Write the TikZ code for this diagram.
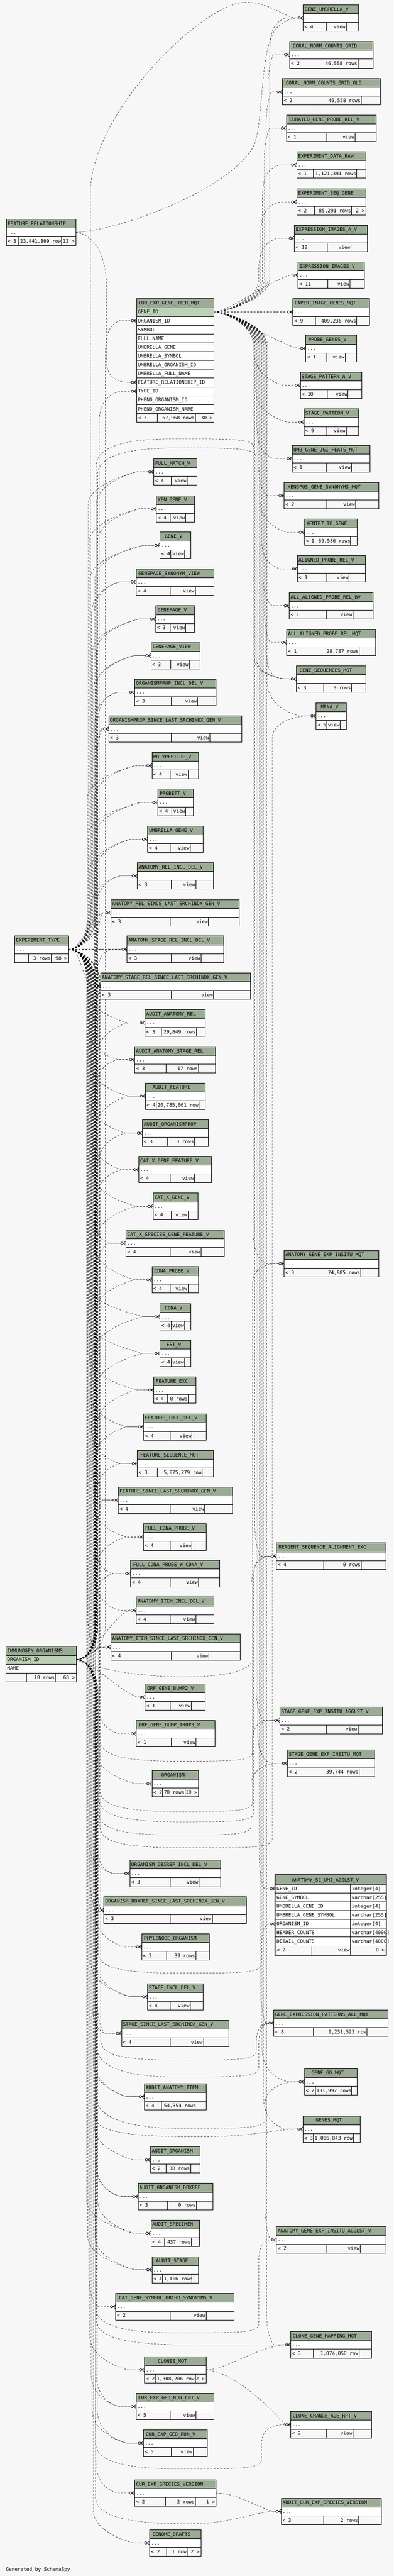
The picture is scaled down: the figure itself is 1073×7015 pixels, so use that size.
\documentclass[tikz,border=0pt]{standalone}
\usepackage{fontspec}
\newfontfamily\tfont{DejaVu Sans Mono}
\font\Tmeas="DejaVu Sans Mono" at 13.2pt
\usetikzlibrary{calc}
\pgfdeclarelayer{front}
\pgfsetlayers{main,front}
\definecolor{bgc}{HTML}{F7F7F7}
\definecolor{hdr}{HTML}{9BAB96}
\definecolor{pkc}{HTML}{BED1B8}
\newlength\mytw
\newcommand\tfs{\tfont\fontsize{13.2}{15}\selectfont}
\tikzset{
  tb/.style={draw=black,line width=1pt},
  rel/.style={draw=black,line width=0.7pt,dash pattern=on 5pt off 4pt},
  cf/.style={draw=black,line width=1.1pt},
  txt/.style={inner sep=0pt,font=\tfs},
}
\newcommand\setP[3]{\expandafter\xdef\csname PX@#1\endcsname{#2}\expandafter\xdef\csname PY@#1\endcsname{#3}}
\newcommand\setC[3]{\expandafter\xdef\csname X@#1\endcsname{#2}\expandafter\xdef\csname Y@#1\endcsname{#3}\coordinate (#1-in) at (#2-14,#3);}
% table: id, x1, y1, x2, title, f1, f2, f3, d1, d2
\newcommand\tbl[9]{\def\Tid{#1}\def\Txa{#2}\def\Tya{#3}\def\Txb{#4}\def\Tttl{#5}\def\Tfa{#6}\def\Tfb{#7}\def\Tfc{#8}\def\Tda{#9}\tblB}
\newcommand\tblB[1]{%
  \def\Tdb{#1}%
  \pgfmathsetmacro\TyA{\Tya+24}\pgfmathsetmacro\TyB{\Tya+48}\pgfmathsetmacro\TyC{\Tya+72}\pgfmathsetmacro\TyM{\Tya+36}%
  \setC{\Tid}{\Txa}{\TyM}%
  \setP{\Tid}{\Txb}{\TyM}%
  \coordinate (\Tid-out) at (\Txb,\TyM);
  \setbox0=\hbox{\Tmeas\Tttl}\global\mytw=\wd0
  \pgfmathsetmacro\Txs{\Txa+max(3.5,(\Txb-\Txa-1.2*\mytw)/2)}%
  \xdef\Ttitx{\Txs}%
  \setbox0=\hbox{\Tmeas\Tfb}\global\mytw=\wd0
  \pgfmathsetmacro\Txs{max(\Tda+3,\Tdb-2-\mytw)}%
  \xdef\Tfbx{\Txs}%
  \begin{pgfonlayer}{front}
  \fill[hdr] (\Txa,\Tya) rectangle (\Txb,\TyA);
  \fill[white] (\Txa,\TyA) rectangle (\Txb,\TyB);
  \fill[bgc] (\Txa,\TyB) rectangle (\Txb,\TyC);
  \draw[tb] (\Txa,\Tya) rectangle (\Txb,\TyC) (\Txa,\TyA) -- (\Txb,\TyA) (\Txa,\TyB) -- (\Txb,\TyB) (\Tda,\TyB) -- (\Tda,\TyC) (\Tdb,\TyB) -- (\Tdb,\TyC);
  \node[txt,anchor=base west] (\Tid-t) at (\Ttitx,\Tya+16.8) {\Tttl};
  \node[txt,anchor=base west] (\Tid-b) at (\Txa+3.5,\Tya+40.8) {...};
  \node[txt,anchor=base west] (\Tid-fa) at (\Txa+3.5,\Tya+64.8) {\Tfa};
  \begin{scope}
    \clip (\Tda,\TyB) rectangle (\Tdb,\TyC);
    \node[txt,anchor=base west] (\Tid-fb) at (\Tfbx,\Tya+64.8) {\Tfb};
  \end{scope}
  \node[txt,anchor=base east] (\Tid-fc) at (\Txb-3.5,\Tya+64.8) {\Tfc};
  \end{pgfonlayer}
}
% crow's foot at child
\newcommand\crow[1]{%
  \edef\CrX{\csname X@#1\endcsname}\edef\CrY{\csname Y@#1\endcsname}%
  \begin{pgfonlayer}{front}
  \filldraw[cf,fill=bgc] (\CrX-11,\CrY) circle (3.3);
  \draw[cf] (\CrX-7.6,\CrY) -- (\CrX,\CrY-5.5) (\CrX-7.6,\CrY) -- (\CrX,\CrY+5.5) (\CrX-7.6,\CrY) -- (\CrX,\CrY);
  \end{pgfonlayer}}
% bundle edge: parent, child, bundle x
\newcommand\ledge[3]{%
  \edef\EpX{\csname PX@#1\endcsname}\edef\EpY{\csname PY@#1\endcsname}%
  \edef\EcX{\csname X@#2\endcsname}\edef\EcY{\csname Y@#2\endcsname}%
  \pgfmathtruncatemacro\Enear{abs(\EcY-\EpY)<180?1:0}%
  \ifnum\Enear=1
    \draw[rel] (#1-out) .. controls (\EpX+40,\EpY) and (\EcX-54,\EcY) .. (#2-in);
  \else
    \pgfmathsetmacro\Edir{(\EcY>\EpY)?1:-1}%
    \pgfmathsetmacro\Ea{\EpY+(\Edir)*35}%
    \pgfmathsetmacro\Eb{\EpY+(\Edir)*90}%
    \pgfmathsetmacro\Ec{\EcY-(\Edir)*90}%
    \pgfmathsetmacro\Ed{\EcY-(\Edir)*40}%
    \pgfmathsetmacro\Ek{max(#3+10,\EcX-85)}%
    \pgfmathsetmacro\Eh{\EcY-(\Edir)*10}%
    \pgfmathsetmacro\Ej{max(#3+14,\EcX-46)}%
    \draw[rel] (#1-out) .. controls (\EpX+30,\EpY) and (#3,\Ea) .. (#3,\Eb) -- (#3,\Ec) .. controls (#3,\Ed) and (\Ek,\Eh) .. (\Ej,\EcY) -- (#2-in);
  \fi}
% swoop edge: parent, child, left bundle x, swoop y, sag, right bundle x
\newcommand\sedge[6]{%
  \edef\EpX{\csname PX@#1\endcsname}\edef\EpY{\csname PY@#1\endcsname}%
  \edef\EcX{\csname X@#2\endcsname}\edef\EcY{\csname Y@#2\endcsname}%
  \pgfmathsetmacro\Eda{(#4>\EpY)?1:-1}%
  \pgfmathsetmacro\Eys{#4+#5}%
  \pgfmathsetmacro\Edb{(\EcY>\Eys)?1:-1}%
  \pgfmathsetmacro\Ea{\EpY+(\Eda)*35}\pgfmathsetmacro\Eb{\EpY+(\Eda)*90}%
  \pgfmathsetmacro\Ec{#4-(\Eda)*40}%
  \pgfmathsetmacro\Exm{(#3+#6)/2}%
  \pgfmathsetmacro\Ee{\Eys+(\Edb)*25}%
  \pgfmathsetmacro\Ef{\EcY-(\Edb)*60}\pgfmathsetmacro\Eg{\EcY-(\Edb)*20}%
  \pgfmathsetmacro\Ek{max(#6+10,\EcX-64)}%
  \draw[rel] (#1-out) .. controls (\EpX+30,\EpY) and (#3,\Ea) .. (#3,\Eb) -- (#3,\Ec) .. controls (#3,#4) and (#3+40,\Eys) .. (\Exm,\Eys) .. controls (#6-50,\Eys) and (#6,\Eys) .. (#6,\Ee) -- (#6,\Ef) .. controls (#6,\Eg) and (\Ek,\EcY) .. (#2-in);
}
% swoop edge straight into child: parent, child, left bundle x, swoop y, sag
\newcommand\sedgeD[5]{%
  \edef\EpX{\csname PX@#1\endcsname}\edef\EpY{\csname PY@#1\endcsname}%
  \edef\EcX{\csname X@#2\endcsname}\edef\EcY{\csname Y@#2\endcsname}%
  \pgfmathsetmacro\Eda{(#4>\EpY)?1:-1}%
  \pgfmathsetmacro\Eys{#4+#5}%
  \pgfmathsetmacro\Ea{\EpY+(\Eda)*35}\pgfmathsetmacro\Eb{\EpY+(\Eda)*90}%
  \pgfmathsetmacro\Ec{#4-(\Eda)*40}%
  \pgfmathsetmacro\Exm{(#3+\EcX)/2}%
  \draw[rel] (#1-out) .. controls (\EpX+30,\EpY) and (#3,\Ea) .. (#3,\Eb) -- (#3,\Ec) .. controls (#3,#4) and (#3+40,\Eys) .. (\Exm,\Eys) .. controls (\EcX-134,\Eys) and (\EcX-74,\EcY) .. (#2-in);
}

\begin{document}
\begin{tikzpicture}[x=1pt,y=-1pt]
\fill[bgc] (0,0) rectangle (1073,7015);
\useasboundingbox (0,0) rectangle (1073,7015);

% ---------- right column ----------
\tbl{gumb}{826}{13}{977}{GENE\_UMBRELLA\_V}{< 4}{view}{}{888}{943}
\tbl{cncg}{789}{113}{1016}{CORAL\_NORM\_COUNTS\_GRID}{< 2}{46,558 rows}{}{864}{975}
\tbl{cncgo}{769}{214}{1036}{CORAL\_NORM\_COUNTS\_GRID\_OLD}{< 2}{46,558 rows}{}{864}{984}
\tbl{cgprv}{780}{313}{1025}{CURATED\_GENE\_PROBE\_REL\_V}{< 1}{view}{}{890}{967}
\tbl{edr}{808}{413}{997}{EXPERIMENT\_DATA\_RAW}{< 1}{1,121,391 rows}{}{853}{972}
\tbl{esg}{808}{514}{997}{EXPERIMENT\_SEQ\_GENE}{< 2}{85,291 rows}{2 >}{857}{958}
\tbl{eiav}{802}{613}{1001}{EXPRESSION\_IMAGES\_A\_V}{< 12}{view}{}{892}{956}
\tbl{eiv}{812}{713}{993}{EXPRESSION\_IMAGES\_V}{< 11}{view}{}{893}{953}
\tbl{pigm}{798}{813.5}{1007}{PAPER\_IMAGE\_GENES\_MQT}{< 9}{409,236 rows}{}{859}{972}
\tbl{pgv}{833}{913}{971}{PROBE\_GENES\_V}{< 1}{view}{}{890}{940}
\tbl{spav}{818}{1013}{985}{STAGE\_PATTERN\_A\_V}{< 10}{view}{}{892}{948}
\tbl{spv}{828}{1113.5}{977}{STAGE\_PATTERN\_V}{< 9}{view}{}{890}{943}
\tbl{ugjf}{796}{1213}{1008}{UMB\_GENE\_JGI\_FEATS\_MQT}{< 1}{view}{}{888}{957}
\tbl{xgsm}{774}{1313.5}{1031}{XENOPUS\_GENE\_SYNONYMS\_MQT}{< 2}{view}{}{890}{969}
\tbl{x7tg}{829}{1413.5}{973}{XENTR7\_TO\_GENE}{< 1}{69,586 rows}{}{864}{954}
\tbl{aprv}{810}{1513}{995}{ALIGNED\_PROBE\_REL\_V}{< 1}{view}{}{890}{951}
\tbl{aaprbv}{788}{1613.5}{1016}{ALL\_ALIGNED\_PROBE\_REL\_BV}{< 1}{view}{}{888}{961}
\tbl{aaprm}{781}{1713.5}{1023}{ALL\_ALIGNED\_PROBE\_REL\_MQT}{< 1}{28,787 rows}{}{864}{979}
\tbl{gsm}{807}{1813}{997}{GENE\_SEQUENCES\_MQT}{< 3}{0 rows}{}{881}{958}
\tbl{mrna}{861}{1913.5}{944}{MRNA\_V}{< 5}{view}{}{890}{927}
\tbl{agem}{774}{3405}{1031}{ANATOMY\_GENE\_EXP\_INSITU\_MQT}{< 3}{24,985 rows}{}{864}{983}
\tbl{rsae}{753}{4201.6}{1051}{REAGENT\_SEQUENCE\_ALIGNMENT\_EXC}{< 4}{0 rows}{}{881}{984}
\tbl{sgeav}{762}{4649}{1041}{STAGE\_GENE\_EXP\_INSITU\_AGGLST\_V}{< 2}{view}{}{888}{975}
\tbl{sgem}{783}{4765.5}{1020}{STAGE\_GENE\_EXP\_INSITU\_MQT}{< 2}{39,744 rows}{}{864}{978}
\tbl{gepam}{746}{5473.4}{1057}{GENE\_EXPRESSION\_PATTERNS\_ALL\_MQT}{< 8}{1,231,522 row}{}{853}{1000}
\tbl{ggm}{829}{5633}{973}{GENE\_GO\_MQT}{< 2}{131,997 rows}{}{859}{957}
\tbl{gm}{825}{5762}{981}{GENES\_MQT}{< 3}{1,006,843 rows}{}{854}{963}
\tbl{ageav}{753}{6063.4}{1052}{ANATOMY\_GENE\_EXP\_INSITU\_AGGLST\_V}{< 2}{view}{}{890}{981}
\tbl{cgmm}{792}{6349.3}{1012}{CLONE\_GENE\_MAPPING\_MQT}{< 3}{1,074,050 row}{}{853}{978}
\tbl{ccarv}{792}{6567}{1012}{CLONE\_CHANGE\_AGE\_RPT\_V}{< 2}{view}{}{888}{961}
\tbl{acesv}{766}{6803}{1039}{AUDIT\_CUR\_EXP\_SPECIES\_VERSION}{< 3}{2 rows}{}{881}{977}

% ---------- middle column ----------
\tbl{fmv}{419}{1249}{537}{FULL\_MATCH\_V}{< 4}{view}{}{466}{510}
\tbl{xgv}{426}{1349.5}{529}{XEN\_GENE\_V}{< 4}{view}{}{464}{506}
\tbl{gv}{436}{1449}{519}{GENE\_V}{< 4}{view}{}{465}{503}
\tbl{gsv}{371}{1549}{583}{GENEPAGE\_SYNONYM\_VIEW}{< 4}{view}{}{464}{532}
\tbl{gpv}{424}{1649.6}{530}{GENEPAGE\_V}{< 3}{view}{}{464}{506}
\tbl{gpvw}{411}{1749.5}{545}{GENEPAGE\_VIEW}{< 3}{view}{}{465}{515}
\tbl{opidv}{367}{1849}{589}{ORGANISMPROP\_INCL\_DEL\_V}{< 3}{view}{}{466}{538}
\tbl{opslv}{296}{1949}{659}{ORGANISMPROP\_SINCE\_LAST\_SRCHINDX\_GEN\_V}{< 3}{view}{}{466}{571}
\tbl{ppv}{414}{2049}{541}{POLYPEPTIDE\_V}{< 4}{view}{}{464}{512}
\tbl{pftv}{430}{2149}{526}{PROBEFT\_V}{< 4}{view}{}{467}{506}
\tbl{ugv}{402}{2249.5}{553}{UMBRELLA\_GENE\_V}{< 4}{view}{}{464}{518}
\tbl{aridv}{374}{2349}{582}{ANATOMY\_REL\_INCL\_DEL\_V}{< 3}{view}{}{466}{533}
\tbl{arslv}{302}{2449.5}{651}{ANATOMY\_REL\_SINCE\_LAST\_SRCHINDX\_GEN\_V}{< 3}{view}{}{464}{568}
\tbl{asridv}{346}{2549}{610}{ANATOMY\_STAGE\_REL\_INCL\_DEL\_V}{< 3}{view}{}{466}{547}
\tbl{asrslv}{274}{2649}{682}{ANATOMY\_STAGE\_REL\_SINCE\_LAST\_SRCHINDX\_GEN\_V}{< 3}{view}{}{466}{582}
\tbl{aar}{395}{2749.6}{559}{AUDIT\_ANATOMY\_REL}{< 3}{29,849 rows}{}{439}{535}
\tbl{aasr}{367}{2849.5}{587}{AUDIT\_ANATOMY\_STAGE\_REL}{< 3}{17 rows}{}{452}{541}
\tbl{af}{396}{2949}{559}{AUDIT\_FEATURE}{< 4}{20,785,061 row}{}{426}{542}
\tbl{aop}{388}{3049.5}{567}{AUDIT\_ORGANISMPROP}{< 3}{0 rows}{}{456}{530}
\tbl{cxgfv}{378}{3149}{576}{CAT\_X\_GENE\_FEATURE\_V}{< 4}{view}{}{464}{530}
\tbl{cxgv}{417}{3249}{539}{CAT\_X\_GENE\_V}{< 4}{view}{}{466}{512}
\tbl{cxsgfv}{343}{3349.5}{611}{CAT\_X\_SPECIES\_GENE\_FEATURE\_V}{< 4}{view}{}{464}{547}
\tbl{cpv}{414}{3449}{541}{CDNA\_PROBE\_V}{< 4}{view}{}{464}{512}
\tbl{cv}{436}{3549.6}{519}{CDNA\_V}{< 4}{view}{}{466}{503}
\tbl{estv}{436}{3649.5}{519}{EST\_V}{< 4}{view}{}{466}{503}
\tbl{fexc}{419}{3749}{534}{FEATURE\_EXC}{< 4}{0 rows}{}{456}{513}
\tbl{fidv}{391}{3849.6}{562}{FEATURE\_INCL\_DEL\_V}{< 4}{view}{}{464}{523}
\tbl{fsm}{374}{3949.5}{581}{FEATURE\_SEQUENCE\_MQT}{< 3}{5,025,279 row}{}{428}{551}
\tbl{fslv}{322}{4049}{633}{FEATURE\_SINCE\_LAST\_SRCHINDX\_GEN\_V}{< 4}{view}{}{464}{558}
\tbl{fcpv}{391}{4149.5}{562}{FULL\_CDNA\_PROBE\_V}{< 4}{view}{}{464}{523}
\tbl{fcpwv}{356}{4249}{598}{FULL\_CDNA\_PROBE\_W\_CDNA\_V}{< 4}{view}{}{464}{541}
\tbl{aiidv}{371}{4349}{583}{ANATOMY\_ITEM\_INCL\_DEL\_V}{< 4}{view}{}{464}{533}
\tbl{aislv}{302}{4449.6}{654}{ANATOMY\_ITEM\_SINCE\_LAST\_SRCHINDX\_GEN\_V}{< 4}{view}{}{466}{569}
\tbl{ogd2}{395}{4585.4}{559}{ORF\_GENE\_DUMP2\_V}{< 1}{view}{}{464}{521}
\tbl{ogdt3}{371}{4685}{585}{ORF\_GENE\_DUMP\_TROP3\_V}{< 1}{view}{}{466}{534}
\tbl{org}{414}{4821}{541}{ORGANISM}{< 2}{70 rows}{10 >}{443}{504}
\tbl{odidv}{354}{5065.6}{601}{ORGANISM\_DBXREF\_INCL\_DEL\_V}{< 3}{view}{}{464}{542}
\tbl{odslv}{283}{5165.5}{671}{ORGANISM\_DBXREF\_SINCE\_LAST\_SRCHINDX\_GEN\_V}{< 3}{view}{}{464}{578}
\tbl{pno}{386}{5265.7}{570}{PHYLONODE\_ORGANISM}{< 2}{39 rows}{}{454}{533}
\tbl{sidv}{402}{5401.5}{553}{STAGE\_INCL\_DEL\_V}{< 4}{view}{}{464}{518}
\tbl{sslv}{331}{5501}{623}{STAGE\_SINCE\_LAST\_SRCHINDX\_GEN\_V}{< 4}{view}{}{464}{554}
\tbl{aai}{393}{5673.6}{562}{AUDIT\_ANATOMY\_ITEM}{< 4}{54,354 rows}{}{439}{536}
\tbl{ao}{410}{5845.4}{545}{AUDIT\_ORGANISM}{< 2}{38 rows}{}{452}{519}
\tbl{aod}{376}{5945.5}{580}{AUDIT\_ORGANISM\_DBXREF}{< 3}{0 rows}{}{457}{535}
\tbl{asp}{411}{6045.4}{543}{AUDIT\_SPECIMEN}{< 4}{437 rows}{}{448}{521}
\tbl{ast}{414}{6145}{541}{AUDIT\_STAGE}{< 4}{1,406 rows}{}{443}{523}
\tbl{cgsosv}{315}{6245.6}{638}{CAT\_GENE\_SYMBOL\_ORTHO\_SYNONYMS\_V}{< 2}{view}{}{464}{561}
\tbl{cm}{394}{6417.4}{561}{CLONES\_MQT}{< 2}{1,308,206 row}{2 >}{423}{532}
\tbl{cegrcv}{371}{6517.5}{583}{CUR\_EXP\_GEO\_RUN\_CNT\_V}{< 5}{view}{}{464}{533}
\tbl{cegrv}{391}{6617}{565}{CUR\_EXP\_GEO\_RUN\_V}{< 5}{view}{}{466}{526}
\tbl{cesv}{367}{6753}{589}{CUR\_EXP\_SPECIES\_VERSION}{< 2}{2 rows}{1 >}{451}{532}
\tbl{gd}{408}{6889}{547}{GENOME\_DRAFTS}{< 2}{1 row}{2 >}{454}{510}

% ---------- left column ----------
\tbl{fr}{17}{597}{207}{FEATURE\_RELATIONSHIP}{< 3}{23,441,809 row}{12 >}{49}{168}
\tbl{et}{40}{2549}{187}{EXPERIMENT\_TYPE}{}{3 rows}{98 >}{77}{140}

% ---------- CUR_EXP_GENE_HIER_MQT ----------
\setP{ceg}{583}{849.5}
\coordinate (ceg-out) at (583,849.5);
\setC{cegorg}{372}{873.5}
\setC{cegfr}{372}{1041.5}
\setC{cegtype}{372}{1065.5}
\begin{pgfonlayer}{front}
\fill[hdr] (372,813.5) rectangle (583,837.5);
\fill[pkc] (372,837.5) rectangle (583,861.5);
\fill[white] (372,861.5) rectangle (583,1125.5);
\fill[bgc] (372,1125.5) rectangle (583,1149.5);
\draw[tb] (372,813.5) rectangle (583,1149.5);
\foreach \i in {1,...,13} \draw[tb] (372,813.5+24*\i) -- (583,813.5+24*\i);
\draw[tb] (429,1125.5) -- (429,1149.5) (532,1125.5) -- (532,1149.5);
\node[txt,anchor=base west] (ceg-t) at (377.3,830.3) {CUR\_EXP\_GENE\_HIER\_MQT};
\foreach \i/\nm in {1/GENE\_ID,2/ORGANISM\_ID,3/SYMBOL,4/FULL\_NAME,5/UMBRELLA\_GENE,6/UMBRELLA\_SYMBOL,7/UMBRELLA\_ORGANISM\_ID,8/UMBRELLA\_FULL\_NAME,9/FEATURE\_RELATIONSHIP\_ID,10/TYPE\_ID,11/PHENO\_ORGANISM\_ID,12/PHENO\_ORGANISM\_NAME}
  \node[txt,anchor=base west] (ceg-r\i) at (375.5,830.3+24*\i) {\nm};
\node[txt,anchor=base west] (ceg-fa) at (375.5,1142.3) {< 3};
\node[txt,anchor=base east] (ceg-fb) at (530,1142.3) {67,068 rows};
\node[txt,anchor=base east] (ceg-fc) at (579.5,1142.3) {30 >};
\end{pgfonlayer}

% ---------- IMMUNOGEN_ORGANISMS ----------
\setP{io}{208}{4519.6}
\coordinate (io-out) at (208,4519.6);
\begin{pgfonlayer}{front}
\fill[hdr] (16,4483.6) rectangle (208,4507.6);
\fill[pkc] (16,4507.6) rectangle (208,4531.6);
\fill[white] (16,4531.6) rectangle (208,4555.6);
\fill[bgc] (16,4555.6) rectangle (208,4579.6);
\draw[tb] (16,4483.6) rectangle (208,4579.6) (16,4507.6) -- (208,4507.6) (16,4531.6) -- (208,4531.6) (16,4555.6) -- (208,4555.6) (72,4555.6) -- (72,4579.6) (151,4555.6) -- (151,4579.6);
\node[txt,anchor=base west] (io-t) at (19.8,4500.4) {IMMUNOGEN\_ORGANISMS};
\node[txt,anchor=base west] (io-r1) at (19.5,4524.4) {ORGANISM\_ID};
\node[txt,anchor=base west] (io-r2) at (19.5,4548.4) {NAME};
\node[txt,anchor=base east] (io-fb) at (149,4572.4) {10 rows};
\node[txt,anchor=base east] (io-fc) at (204.5,4572.4) {68 >};
\end{pgfonlayer}

% ---------- ANATOMY_SC_UMI_AGGLST_V ----------
\setC{scgene}{750}{5143}
\setC{scorg}{750}{5239}
\begin{pgfonlayer}{front}
\fill[hdr] (750,5107) rectangle (1052,5131);
\fill[white] (750,5131) rectangle (1052,5299);
\fill[bgc] (750,5299) rectangle (1052,5323);
\foreach \i in {1,...,8} \draw[tb] (750,5107+24*\i) -- (1052,5107+24*\i);
\draw[tb] (955,5131) -- (955,5299) (849,5299) -- (849,5323) (955,5299) -- (955,5323);
\draw[black,line width=2.6pt] (749.5,5105) rectangle (1052.5,5324);
\node[txt,anchor=base west] (sc-t) at (795,5123.8) {ANATOMY\_SC\_UMI\_AGGLST\_V};
\foreach \i/\nm/\ty in {1/GENE\_ID/integer[4],2/GENE\_SYMBOL/varchar[255],3/UMBRELLA\_GENE\_ID/integer[4],4/UMBRELLA\_GENE\_SYMBOL/varchar[255],5/ORGANISM\_ID/integer[4],6/HEADER\_COUNTS/varchar[4000],7/DETAIL\_COUNTS/varchar[4000]}{
  \node[txt,anchor=base west] (sc-n\i) at (753.5,5123.8+24*\i) {\nm};
  \node[txt,anchor=base west] (sc-y\i) at (958,5123.8+24*\i) {\ty};
}
\node[txt,anchor=base west] (sc-fa) at (753.5,5315.8) {< 2};
\node[txt,anchor=base east] (sc-fb) at (953,5315.8) {view};
\node[txt,anchor=base east] (sc-fc) at (1048,5315.8) {0 >};
\end{pgfonlayer}

% ---------- crow's feet ----------
\foreach \nm in {gumb,cncg,cncgo,cgprv,edr,esg,eiav,eiv,pigm,pgv,spav,spv,ugjf,xgsm,x7tg,aprv,aaprbv,aaprm,gsm,mrna,agem,rsae,sgeav,sgem,scgene,scorg,gepam,ggm,gm,ageav,cgmm,ccarv,acesv,fmv,xgv,gv,gsv,gpv,gpvw,opidv,opslv,ppv,pftv,ugv,aridv,arslv,asridv,asrslv,aar,aasr,af,aop,cxgfv,cxgv,cxsgfv,cpv,cv,estv,fexc,fidv,fsm,fslv,fcpv,fcpwv,aiidv,aislv,ogd2,ogdt3,odidv,odslv,pno,sidv,sslv,aai,ao,aod,asp,ast,cgsosv,cm,cegrcv,cegrv,cesv,gd,cegorg,cegfr,cegtype}{\crow{\nm}}
\begin{pgfonlayer}{front}
\filldraw[cf,fill=bgc] (403,4857) circle (3.3);
\draw[cf] (409.5,4851) -- (409.5,4863);
\end{pgfonlayer}

% ---------- connectors from CUR_EXP_GENE_HIER_MQT ----------
\foreach \nm/\bxx in {gumb/735,cncg/730,cncgo/725,cgprv/720,edr/715,esg/710,eiav/705,eiv/700,pigm/700,pgv/700,spav/692,spv/696,ugjf/700,xgsm/704,x7tg/708,aprv/712,aaprbv/716,aaprm/720,gsm/724,mrna/728,agem/690,rsae/694,sgeav/698,sgem/702,scgene/706,gepam/710,ggm/714,gm/718,ageav/722,cgmm/726}{\ledge{ceg}{\nm}{\bxx}}

% ---------- connectors from EXPERIMENT_TYPE ----------
\foreach \nm/\bxx in {fmv/240,xgv/243,gv/246,gsv/249,gpv/252,gpvw/255,opidv/258,opslv/261,ppv/238,pftv/241,ugv/244,aridv/247,arslv/250,asridv/250,cegtype/270,asrslv/250,aar/238,aasr/241,af/244,aop/247,cxgfv/250,cxgv/253,cxsgfv/256,cpv/259,cv/237,estv/240,fexc/243,fidv/246,fsm/249,fslv/252,fcpv/255,fcpwv/258,aiidv/261,aislv/239,odidv/242,odslv/245,sidv/248,sslv/251,aai/254,ao/257,aod/260,asp/236,ast/239,cgsosv/242,cm/245,cegrcv/248,cegrv/251,gd/254}{\ledge{et}{\nm}{\bxx}}

% ---------- connectors from IMMUNOGEN_ORGANISMS ----------
\foreach \nm/\bxx in {fmv/262,xgv/265,gv/259,gsv/256,gpv/263,gpvw/260,opidv/266,opslv/264,ppv/257,pftv/261,ugv/258,aridv/262,arslv/265,asridv/263,asrslv/260,aar/264,aasr/258,af/261,aop/266,cxgfv/259,cxgv/262,cxsgfv/265,cpv/257,cv/260,estv/263,fexc/266,fidv/258,fsm/261,fslv/264,fcpv/259,fcpwv/262,aiidv/265,aislv/260,cegorg/287,ogd2/260,ogdt3/263,org/258,odidv/264,odslv/261,pno/259,sidv/262,sslv/265,aai/260,aod/263,asp/266,ast/259,cegrcv/262,cegrv/265,cesv/261}{\ledge{io}{\nm}{\bxx}}

% ---------- long swoops to the right column ----------
\sedge{et}{gsm}{262}{1230}{-35}{692}
\sedge{io}{gsm}{266}{1255}{-35}{697}
\sedge{et}{sgeav}{272}{4774}{22}{688}
\sedge{et}{agem}{272}{4911}{22}{688}
\sedge{et}{rsae}{268}{4934}{27}{691}
\sedge{et}{sgem}{270}{4976}{21}{684}
\sedge{et}{mrna}{272}{5011}{21}{742}
\sedge{io}{scorg}{267}{5354}{19}{712}
\sedge{et}{gepam}{274}{5593}{17}{698}
\sedge{io}{gepam}{263}{5612}{44}{705}
\sedge{et}{ggm}{260}{5746}{50}{722}
\sedgeD{io}{gm}{257}{5796}{23}
\sedge{et}{ageav}{260}{6321}{32}{705}
\sedgeD{io}{cgmm}{263}{6355}{31}
\sedge{et}{ccarv}{260}{6690}{33}{712}
\sedgeD{io}{acesv}{260}{6838}{35}
\draw[rel] (io-out) .. controls (330,4575) and (640,4585) .. (684,4530) -- (684,4330) .. controls (684,4270) and (700,4237.6) .. (rsae-in);

% ---------- other connectors ----------
\draw[rel] (et-out) .. controls (217,2585) and (246,2550) .. (246,2495) -- (246,520) .. controls (252,300) and (560,0) .. (674,6) .. controls (740,9) and (775,49) .. (gumb-in);
\draw[rel] (fr-out) .. controls (330,625) and (620,520) .. (690,400) .. controls (720,340) and (705,110) .. (760,70) .. controls (780,55) and (795,49) .. (gumb-in);
\draw[rel] (fr-out) .. controls (260,640) and (290,700) .. (290,780) -- (290,980) .. controls (290,1030) and (320,1041.5) .. (cegfr-in);
\draw[rel] (cm-out) .. controls (620,6453) and (700,6390) .. (cgmm-in);
\draw[rel] (cm-out) .. controls (640,6460) and (740,6560) .. (ccarv-in);
\draw[rel] (cesv-out) .. controls (650,6789) and (720,6839) .. (acesv-in);

\node[txt,anchor=base west] (gen) at (16,7001) {Generated by SchemaSpy};
\end{tikzpicture}
\end{document}
